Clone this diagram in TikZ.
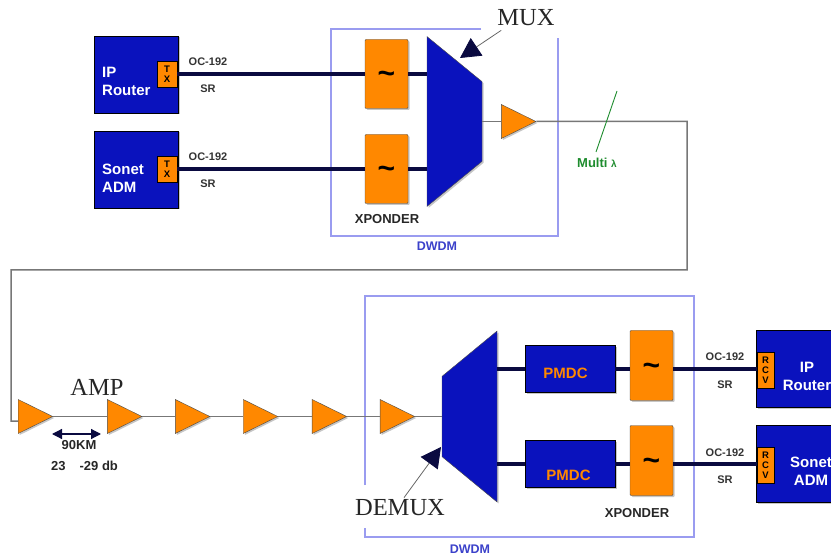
\documentclass[tikz,border=0pt]{standalone}
\usepackage{fontspec}
\setmainfont{Liberation Sans}
\newfontfamily\labelserif{Liberation Serif}
\usepackage{xcolor}
\usetikzlibrary{shapes.geometric, arrows.meta, positioning, shadows}
\definecolor{boxblue}{HTML}{0A12BD}
\definecolor{amporange}{HTML}{FF8800}
\definecolor{framelilac}{HTML}{9A9CF0}
\definecolor{wirenavy}{HTML}{0A0A40}
\definecolor{fibergray}{HTML}{777777}
\definecolor{multigreen}{HTML}{1E8C2E}
\newcommand{\wave}{\smash{\raisebox{-10pt}{\textasciitilde}}}
\tikzstyle{shade} = [drop shadow={shadow xshift=1.5pt, shadow yshift=-1.5pt, opacity=0.45}]
\tikzstyle{endbox} = [draw=black, rectangle, fill=boxblue, minimum width=84pt, minimum height=77pt, inner sep=0pt, shade]
\tikzstyle{endtext} = [text=white, font=\fontsize{15}{18}\selectfont\bfseries, inner sep=0pt]
\tikzstyle{port} = [draw=black, rectangle, fill=amporange, inner sep=0pt, align=center, font=\fontsize{9.5}{10}\selectfont\bfseries]
\tikzstyle{xponder} = [draw=black!70, rectangle, rounded corners=1pt, fill=amporange, minimum width=43pt, minimum height=69pt, inner sep=0pt, font=\fontsize{30}{30}\selectfont\bfseries, shade]
\tikzstyle{pmdc} = [draw=black, rectangle, fill=boxblue, minimum width=90pt, minimum height=47pt, inner sep=0pt, shade]
\tikzstyle{pmdctext} = [inner sep=0pt, text=amporange, font=\fontsize{15}{18}\selectfont\bfseries]
\tikzstyle{amp} = [draw=black!70, isosceles triangle, isosceles triangle stretches, minimum width=34pt, minimum height=34.5pt, inner sep=0pt, fill=amporange, shade]
\tikzstyle{wdm} = [draw=black!70, trapezium, trapezium stretches, trapezium left angle=65, trapezium right angle=65, fill=boxblue, inner sep=0pt, shade]
\tikzstyle{small} = [inner sep=0pt, text=black!80, font=\fontsize{11}{13}\selectfont\bfseries]
\tikzstyle{mid} = [inner sep=0pt, text=black!85, font=\fontsize{13}{15}\selectfont\bfseries]
\tikzstyle{big} = [inner sep=0pt, text=black!85, font=\fontsize{24.5}{26}\selectfont\labelserif]
\tikzstyle{dwdmtext} = [inner sep=0pt, text=boxblue!80, font=\fontsize{12.5}{15}\selectfont\bfseries]
\tikzstyle{frame} = [draw=framelilac, line width=1.2pt]
\tikzstyle{wire} = [draw=wirenavy, line width=3.2pt]
\tikzstyle{fiber} = [draw=fibergray, line width=1.5pt]
\tikzstyle{callout} = [draw=black!60, line width=0.8pt, -{Triangle[length=20pt, width=21pt, color=wirenavy]}]
\begin{document}
\begin{tikzpicture}[x=1pt, y=-1pt, node distance=95pt]
    \clip (0,0) rectangle (831,556);
    \useasboundingbox (0,0) rectangle (831,556);
    % DWDM frames
    \draw [frame] (481,29) -- (331,29) -- (331,236) -- (558,236) -- (558,38);
    \draw [frame] (365,485) -- (365,296) -- (694,296) -- (694,537) -- (365,537) -- (365,528);
    \node (dwdmtop) [dwdmtext] at (437,246) {DWDM};
    \node (dwdmlow) [dwdmtext] at (470,549) {DWDM};
    % sending side
    \node (router) [endbox] at (136,74.5) {};
    \node (sonet) [endbox, below of=router] {};
    \node (routertext) [endtext, align=left, anchor=west] at (102,81) {IP\\Router};
    \node (sonettext) [endtext, align=left, anchor=west] at (102,178) {Sonet\\ADM};
    \node (txa) [port, minimum width=20pt, minimum height=26pt] at (167,74) {T\\X};
    \node (txb) [port, minimum width=20pt, minimum height=26pt] at (167,169) {T\\X};
    \node (xpa) [xponder] at (386.5,74) {\wave};
    \node (xpb) [xponder, below of=xpa] {\wave};
    \node (mux) [wdm, shape border rotate=270, minimum width=170pt, minimum height=55pt] at (454.5,121.5) {\phantom{M}};
    \node (muxamp) [amp, right=19pt of mux] {\phantom{M}};
    \draw [wire] (txa.east) -- (xpa.west);
    \draw [wire] (txb.east) -- (xpb.west);
    \draw [wire] (xpa.east) -- (xpa.east -| mux.west);
    \draw [wire] (xpb.east) -- (xpb.east -| mux.west);
    \draw [fiber] (mux.east) -- (muxamp.west);
    \node (octopa) [small] at (208,62) {OC-192};
    \node (srtopa) [small] at (208,89) {SR};
    \node (octopb) [small] at (208,157) {OC-192};
    \node (srtopb) [small] at (208,184) {SR};
    \node (xptext) [mid] at (387,219) {XPONDER};
    \node (muxtext) [big] at (526,18) {MUX};
    \coordinate (muxtip) at (460,58);
    \draw [callout] (muxtext.south west) ++(4,4) -- (muxtip);
    % long span
    \coordinate (loopa) at (687,121.5);
    \coordinate (loopb) at (11,270);
    \coordinate (ampin) at (18,421);
    \node (amp1) [amp, anchor=west] at (18,416.5) {\phantom{M}};
    \node (amp2) [amp, right=54pt of amp1] {\phantom{M}};
    \node (amp3) [amp, right=32.7pt of amp2] {\phantom{M}};
    \node (amp4) [amp, right=32.7pt of amp3] {\phantom{M}};
    \node (amp5) [amp, right=33.7pt of amp4] {\phantom{M}};
    \node (amp6) [amp, right=32.7pt of amp5] {\phantom{M}};
    \draw [fiber] (muxamp.east) -- (loopa) |- (loopb) |- (ampin);
    \draw [fiber] (amp1.east) -- (amp2.west);
    \draw [fiber] (amp2.east) -- (amp3.west);
    \draw [fiber] (amp3.east) -- (amp4.west);
    \draw [fiber] (amp4.east) -- (amp5.west);
    \draw [fiber] (amp5.east) -- (amp6.west);
    \coordinate (lambdaa) at (617,91);
    \coordinate (lambdab) at (596,152);
    \draw [draw=multigreen, line width=0.9pt] (lambdaa) -- (lambdab);
    \node (multi) [mid, text=multigreen, anchor=west] at (577,163) {Multi {\fontsize{10}{10}\selectfont λ}};
    \node (amptext) [big] at (97,387) {AMP};
    \coordinate (spana) at (52,434);
    \coordinate (spanb) at (101,434);
    \draw [draw=wirenavy, line width=1.2pt, {Triangle[length=10pt, width=10pt]}-{Triangle[length=10pt, width=10pt]}] (spana) -- (spanb);
    \node (km) [mid] at (79,445) {90KM};
    \node (db) [mid, anchor=west] at (51,466) {23\hspace{14pt}-29 db};
    % receiving side
    \node (demux) [wdm, shape border rotate=90, minimum width=171pt, minimum height=55pt] at (469.5,416.5) {\phantom{M}};
    \draw [fiber] (amp6.east) -- (amp6.east -| demux.west);
    \node (pmdca) [pmdc] at (570,369) {};
    \node (pmdcb) [pmdc, below of=pmdca] {};
    \node (pmdcatext) [pmdctext] at (565.5,373) {PMDC};
    \node (pmdcbtext) [pmdctext] at (568.5,475) {PMDC};
    \node (xpc) [xponder, minimum height=70pt] at (651.5,365.5) {\wave};
    \node (xpd) [xponder, minimum height=70pt, below of=xpc] {\wave};
    \node (routerb) [endbox] at (798,369) {};
    \node (sonetb) [endbox, below of=routerb] {};
    \node (routerbtext) [endtext, align=center] at (807,376) {IP\\Router};
    \node (sonetbtext) [endtext, align=center] at (811,471) {Sonet\\ADM};
    \node (rcva) [port, minimum width=17pt, minimum height=36pt] at (765.5,370) {R\\C\\V};
    \node (rcvb) [port, minimum width=17pt, minimum height=36pt] at (765.5,465.5) {R\\C\\V};
    \draw [wire] (pmdca.west -| demux.east) -- (pmdca.west);
    \draw [wire] (pmdcb.west -| demux.east) -- (pmdcb.west);
    \draw [wire] (pmdca.east) -- (pmdca.east -| xpc.west);
    \draw [wire] (pmdcb.east) -- (pmdcb.east -| xpd.west);
    \draw [wire] (pmdca.east -| xpc.east) -- (pmdca.east -| rcva.west);
    \draw [wire] (pmdcb.east -| xpd.east) -- (pmdcb.east -| rcvb.west);
    \node (oclowa) [small] at (725,357) {OC-192};
    \node (srlowa) [small] at (725,385) {SR};
    \node (oclowb) [small] at (725,453) {OC-192};
    \node (srlowb) [small] at (725,480) {SR};
    \node (xptextb) [mid] at (637,513) {XPONDER};
    \node (demuxtext) [big] at (400,508) {DEMUX};
    \coordinate (demuxtip) at (441,447);
    \draw [callout] (demuxtext.north) ++(4,-2) -- (demuxtip);
\end{tikzpicture}
\end{document}
